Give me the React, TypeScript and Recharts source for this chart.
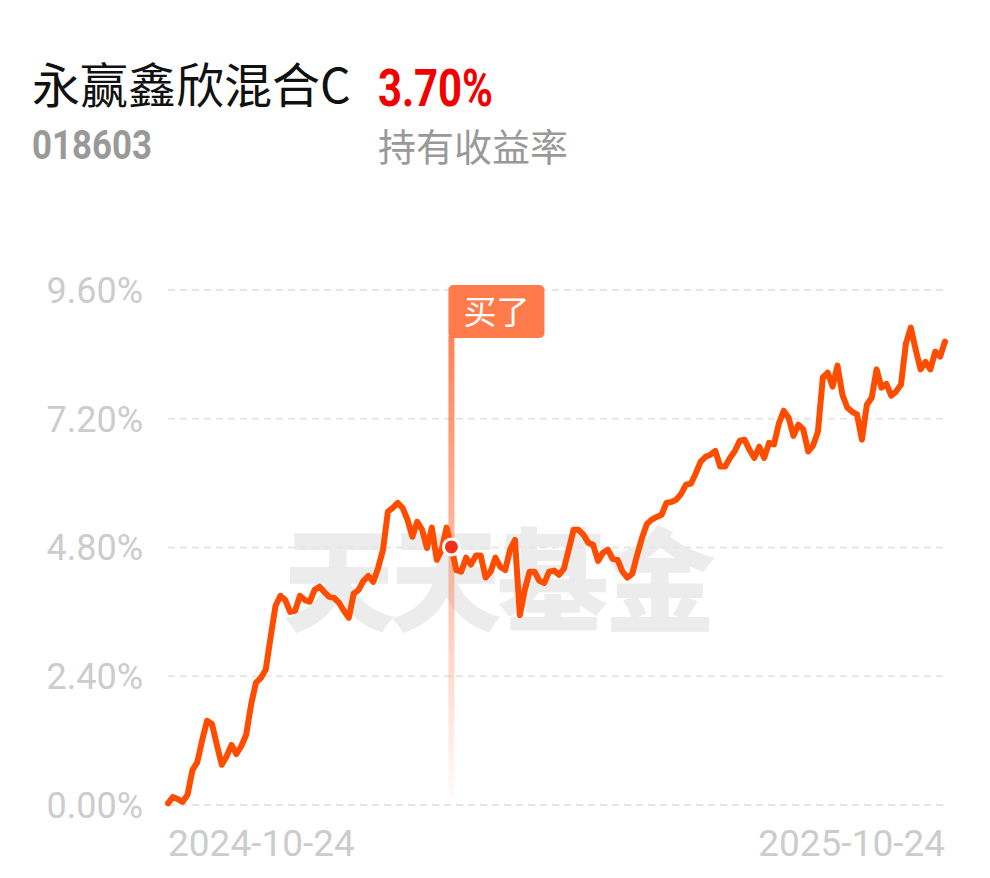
import {
  CartesianGrid,
  Line,
  LineChart,
  ReferenceDot,
  ReferenceLine,
  XAxis,
  YAxis,
} from 'recharts'

const fundName = '永赢鑫欣混合C'
const fundCode = '018603'
const holdingReturn = '3.70%'
const returnLabel = '持有收益率'
const watermark = '天天基金'
const buyLabel = '买了'

const yTicks = [0, 2.4, 4.8, 7.2, 9.6]
const xTickLabels = ['2024-10-24', '2025-10-24']

// holding return in %, one point per sampled trading day
const returns = [
  0.03, 0.15, 0.11, 0.06, 0.19, 0.65, 0.8, 1.21, 1.57, 1.51,
  1.12, 0.75, 0.91, 1.12, 0.95, 1.1, 1.31, 1.87, 2.28, 2.37,
  2.52, 3.13, 3.71, 3.9, 3.82, 3.6, 3.62, 3.9, 3.82, 3.79,
  4.01, 4.07, 3.97, 3.88, 3.86, 3.77, 3.62, 3.49, 3.94, 4.01,
  4.18, 4.27, 4.16, 4.42, 4.76, 5.47, 5.54, 5.63, 5.54, 5.32,
  5.0, 5.28, 5.13, 4.79, 5.17, 4.57, 4.76, 5.17, 4.81, 4.38,
  4.35, 4.61, 4.48, 4.65, 4.65, 4.24, 4.35, 4.61, 4.44, 4.38,
  4.76, 4.94, 3.54, 4.01, 4.35, 4.35, 4.18, 4.14, 4.35, 4.37,
  4.29, 4.4, 4.76, 5.13, 5.13, 5.04, 4.89, 4.85, 4.55, 4.7,
  4.76, 4.59, 4.57, 4.35, 4.24, 4.31, 4.66, 4.98, 5.24, 5.32,
  5.37, 5.41, 5.63, 5.65, 5.69, 5.8, 5.97, 5.99, 6.18, 6.4,
  6.49, 6.53, 6.6, 6.31, 6.31, 6.47, 6.6, 6.79, 6.81, 6.62,
  6.47, 6.68, 6.47, 6.75, 6.72, 7.11, 7.35, 7.22, 6.88, 7.09,
  7.0, 6.59, 6.7, 6.96, 7.97, 8.06, 7.8, 8.19, 7.65, 7.41,
  7.33, 7.28, 6.81, 7.46, 7.59, 8.12, 7.78, 7.85, 7.63, 7.71,
  7.84, 8.6, 8.9, 8.49, 8.12, 8.26, 8.12, 8.45, 8.36, 8.64,
]
const buyIndex = 58

const data = returns.map((v, i) => ({ i, v }))
const lastIndex = returns.length - 1

function DateTick(props: any) {
  const { x, y, payload } = props
  const first = payload.value === 0
  return (
    <text
      x={x}
      y={y}
      dy="0.71em"
      textAnchor={first ? 'start' : 'end'}
      fill="#cccccc"
      fontSize={37}
      fontFamily="Roboto"
    >
      {first ? xTickLabels[0] : xTickLabels[1]}
    </text>
  )
}

function BuyTag(props: any) {
  const { viewBox } = props
  if (!viewBox) return null
  const x = viewBox.x
  const top = viewBox.y
  const bottom = viewBox.y + viewBox.height
  return (
    <g>
      <defs>
        <linearGradient id="buyFade" x1="0" y1="0" x2="0" y2="1">
          <stop offset="0%" stopColor="#ff7b4c" stopOpacity={0.95} />
          <stop offset="100%" stopColor="#ff7b4c" stopOpacity={0.03} />
        </linearGradient>
      </defs>
      <rect x={x - 3} y={top + 46} width={6} height={bottom - top - 54} fill="url(#buyFade)" />
      <rect x={x - 3} y={top - 5} width={96} height={53} rx={5} fill="#ff7b4c" />
      <text
        x={x + 45}
        y={top + 22}
        dy="0.36em"
        textAnchor="middle"
        fill="#ffffff"
        fontSize={33}
        fontFamily="Noto Sans CJK SC"
      >
        {buyLabel}
      </text>
    </g>
  )
}

export default function App() {
  return (
    <div
      style={{
        position: 'absolute',
        left: 0,
        top: 0,
        width: 990,
        height: 878,
        background: '#fff',
        overflow: 'hidden',
        fontFamily: '"Noto Sans CJK SC", Roboto, sans-serif',
      }}
    >
      <div style={{ position: 'absolute', left: 32, top: 54, fontSize: 48, lineHeight: 1.2, color: '#111' }}>
        {fundName}
      </div>
      <div
        style={{
          position: 'absolute',
          left: 378,
          top: 58,
          fontSize: 51,
          lineHeight: 1.2,
          fontWeight: 700,
          fontFamily: 'Roboto',
          color: '#f20000',
          transform: 'scaleX(0.82)',
          transformOrigin: 'left center',
        }}
      >
        {holdingReturn}
      </div>
      <div
        style={{
          position: 'absolute',
          left: 32,
          top: 121,
          fontSize: 41,
          lineHeight: 1.2,
          fontWeight: 700,
          fontFamily: 'Roboto',
          color: '#999',
          transform: 'scaleX(0.85)',
          transformOrigin: 'left center',
        }}
      >
        {fundCode}
      </div>
      <div style={{ position: 'absolute', left: 378, top: 122, fontSize: 38, lineHeight: 1.2, color: '#999' }}>
        {returnLabel}
      </div>
      <div
        style={{
          position: 'absolute',
          left: 283,
          top: 507,
          fontSize: 112,
          lineHeight: 1.2,
          fontWeight: 900,
          color: '#ececec',
          letterSpacing: -5,
        }}
      >
        {watermark}
      </div>
      <div style={{ position: 'absolute', left: 0, top: 0 }}>
        <LineChart width={990} height={878} data={data} margin={{ top: 290, right: 45, bottom: 0, left: 0 }}>
          <CartesianGrid vertical={false} stroke="#e6e6e6" strokeWidth={2} strokeDasharray="7 5" />
          <XAxis
            dataKey="i"
            type="number"
            domain={[0, lastIndex]}
            ticks={[0, lastIndex]}
            axisLine={false}
            tickLine={false}
            tickSize={0}
            tickMargin={25}
            height={73}
            tick={<DateTick />}
            interval={0}
          />
          <YAxis
            domain={[0, 9.6]}
            ticks={yTicks}
            axisLine={false}
            tickLine={false}
            tickSize={0}
            tickMargin={25}
            width={168}
            tickFormatter={(v: number) => `${v.toFixed(2)}%`}
            tick={{ fill: '#cccccc', fontSize: 36, fontFamily: 'Roboto' }}
          />
          <ReferenceLine x={buyIndex} stroke="none" label={<BuyTag />} />
          <Line
            type="linear"
            dataKey="v"
            stroke="#ff4d00"
            strokeWidth={6}
            strokeLinejoin="round"
            strokeLinecap="round"
            dot={false}
            activeDot={false}
            isAnimationActive={false}
          />
          <ReferenceDot
            x={buyIndex}
            y={returns[buyIndex]}
            r={8}
            fill="#f0321a"
            stroke="#ffffff"
            strokeWidth={3}
          />
        </LineChart>
      </div>
    </div>
  )
}
